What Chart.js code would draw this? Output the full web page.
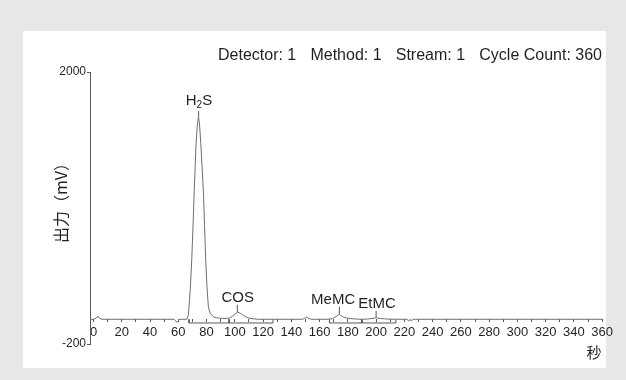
<!DOCTYPE html>
<html>
<head>
<meta charset="utf-8">
<script src="https://cdn.jsdelivr.net/npm/chart.js@4/dist/chart.umd.min.js"></script>
<style>
html, body { margin: 0; padding: 0; background: #e6e7e8; }
#panel { position: absolute; left: 23px; top: 31px; width: 583px; height: 337px; background: #fff; }
#wrap { position: absolute; left: 0; top: 0; width: 626px; height: 380px; }
</style>
</head>
<body>
<div id="panel"></div>
<div id="wrap"><canvas id="chromChart" width="626" height="380"></canvas></div>
<script>
// chromatogram (seconds / mV)
const times = [-2.5, 0, 2, 3, 4, 6, 10, 20, 30, 40, 50, 57, 59, 61, 64, 66, 67, 67.6, 68.5, 69.5, 70.5, 71.2, 72, 72.6, 73.5, 74.3, 75, 75.9, 77, 77.8, 78.6, 79.4, 80.3, 81.3, 82.5, 84.6, 87, 90, 93, 96, 98, 100, 102, 104, 106, 108, 110, 113, 116, 120, 130, 140, 148, 150, 151, 152, 154, 160, 166, 169, 171, 173, 174, 175, 177, 179, 182, 186, 190, 194, 197, 199, 200, 201, 203, 206, 210, 215, 220, 222, 223, 224, 225, 226, 228, 240, 260, 280, 300, 320, 340, 360];
const signal = [0, 0, 10, 25, 10, 0, 0, 0, 0, 0, 0, 0, -25, 0, 0, 0, 30, 100, 250, 480, 780, 1020, 1250, 1425, 1580, 1640, 1580, 1425, 1200, 1020, 750, 480, 260, 100, 50, 22, 12, 8, 6, 10, 22, 40, 58, 48, 32, 18, 10, 4, 0, 0, 0, 0, 0, 12, 20, 8, 0, 0, 0, 5, 18, 32, 42, 30, 18, 10, 5, 2, 0, 2, 6, 9, 14, 9, 6, 3, 1, 0, 0, 0, -15, 0, -15, 0, 0, 0, 0, 0, 0, 0, 0, 0];

// peak labels
const peakNames = ['H2S', 'COS', 'MeMC', 'EtMC'];
const peakTimes = [74.4, 101.8, 174, 200];
const peakTops = [1640, 58, 42, 14];
const leaderTops = [1685, 116, 100, 67];
const labelTimes = [74.6, 102, 169.6, 200.7];

// integration brackets under the baseline
const bracketStarts = [67.6, 96, 167, 190];
const bracketEnds = [96, 127, 190, 214];
const bracketDepth = -30;

const xMinorTicks = [0, 10, 20, 30, 40, 50, 60, 70, 80, 90, 100, 110, 120, 130, 140, 150, 160, 170, 180, 190, 200, 210, 220, 230, 240, 250, 260, 270, 280, 290, 300, 310, 320, 330, 340, 350, 360];
const xTickLabels = [0, 20, 40, 60, 80, 100, 120, 140, 160, 180, 200, 220, 240, 260, 280, 300, 320, 340, 360];
const yTickValues = [-200, 2000];

const headerParts = ['Detector: 1', 'Method: 1', 'Stream: 1', 'Cycle Count: 360'];
const yTitle = '出力（mV）';
const xTitle = '秒';

const sans = '"Liberation Sans", Arial, Helvetica, sans-serif';
const cjk = '"Noto Sans CJK JP", "Noto Sans CJK SC", sans-serif';

const tracePoints = times.map((t, i) => ({ x: t, y: signal[i] }));

const bracketPoints = [];
bracketStarts.forEach((s, i) => {
    const e = bracketEnds[i];
    bracketPoints.push({ x: s, y: 0 }, { x: s, y: bracketDepth }, { x: e, y: bracketDepth }, { x: e, y: 0 }, { x: e, y: null });
});

const leaderPoints = [];
peakTimes.forEach((t, i) => {
    leaderPoints.push({ x: t, y: peakTops[i] }, { x: t, y: leaderTops[i] }, { x: t, y: null });
});

const textPlugin = {
    id: 'chromText',
    afterDraw(chart) {
        const ctx = chart.ctx;
        const x = chart.scales.x;
        const y = chart.scales.y;
        ctx.save();
        ctx.fillStyle = '#231f20';

        // header line, spread between 218 and 602
        ctx.font = '16px ' + sans;
        ctx.textBaseline = 'middle';
        ctx.textAlign = 'left';
        const widths = headerParts.map(p => ctx.measureText(p).width);
        const gap = (602 - 218 - widths.reduce((a, b) => a + b, 0)) / (headerParts.length - 1);
        let hx = 218;
        headerParts.forEach((p, i) => {
            ctx.fillText(p, hx, 56);
            hx += widths[i] + gap;
        });

        // peak names, digits as subscripts
        ctx.textBaseline = 'alphabetic';
        peakNames.forEach((name, i) => {
            let w = 0;
            for (const ch of name) {
                ctx.font = (/\d/.test(ch) ? '10px ' : '15px ') + sans;
                w += ctx.measureText(ch).width;
            }
            let px = x.getPixelForValue(labelTimes[i]) - w / 2;
            const py = y.getPixelForValue(leaderTops[i]) - (/\d/.test(name) ? 6 : 3);
            for (const ch of name) {
                const sub = /\d/.test(ch);
                ctx.font = (sub ? '10px ' : '15px ') + sans;
                ctx.fillText(ch, px, sub ? py + 3 : py);
                px += ctx.measureText(ch).width;
            }
        });

        // axis titles
        ctx.font = '15px ' + cjk;
        ctx.textAlign = 'center';
        ctx.textBaseline = 'middle';
        ctx.fillText(xTitle, 594, 352);
        ctx.translate(61, 199);
        ctx.rotate(-Math.PI / 2);
        ctx.font = '16px ' + cjk;
        ctx.fillText(yTitle, 0, 0);
        ctx.restore();
    }
};

const ctx = document.getElementById('chromChart').getContext('2d');
const chromChart = new Chart(ctx, {
    type: 'scatter',
    data: {
        datasets: [
            { data: tracePoints, showLine: true, borderColor: '#6d6e71', borderWidth: 1, pointRadius: 0, tension: 0 },
            { data: bracketPoints, showLine: true, spanGaps: false, borderColor: '#58595b', borderWidth: 1, pointRadius: 0 },
            { data: leaderPoints, showLine: true, spanGaps: false, borderColor: '#58595b', borderWidth: 1, pointRadius: 0 }
        ]
    },
    options: {
        responsive: false,
        animation: false,
        layout: { padding: { left: 0, right: 21, top: 72, bottom: 36 } },
        plugins: { legend: { display: false }, tooltip: { enabled: false } },
        scales: {
            x: {
                type: 'linear',
                position: { y: 0 },
                min: -2.5,
                max: 362,
                afterBuildTicks: (s) => { s.ticks = xMinorTicks.map(v => ({ value: v })); },
                ticks: {
                    autoSkip: false,
                    maxRotation: 0,
                    padding: 2,
                    color: '#231f20',
                    font: { size: 13, family: sans },
                    callback: (v) => xTickLabels.includes(v) ? String(v) : ''
                },
                grid: { drawOnChartArea: false, tickLength: 3, color: '#58595b' },
                border: { display: false }
            },
            y: {
                min: -200,
                max: 2000,
                afterBuildTicks: (s) => { s.ticks = yTickValues.map(v => ({ value: v })); },
                afterFit: (s) => { s.width = 90; },
                ticks: { padding: 1, color: '#231f20', font: { size: 12, family: sans }, callback: (v) => String(v) },
                grid: { drawOnChartArea: false, tickLength: 3, color: '#58595b' },
                border: { color: '#58595b' }
            }
        }
    },
    plugins: [textPlugin]
});
</script>
</body>
</html>
